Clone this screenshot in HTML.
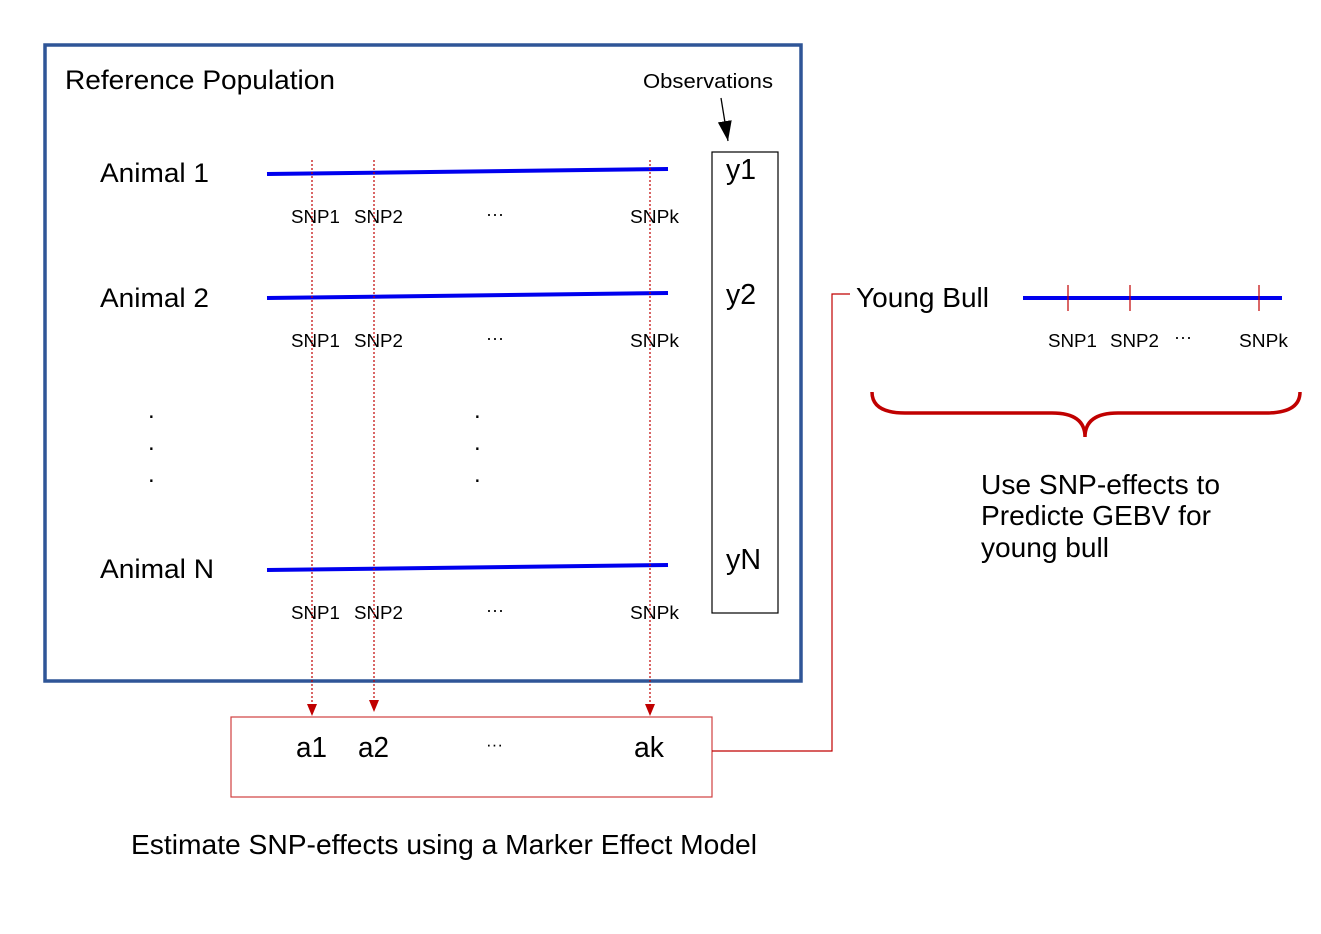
<!DOCTYPE html>
<html><head><meta charset="utf-8"><style>
html,body{margin:0;padding:0;background:#fff}
svg{display:block}
text{font-family:"Liberation Sans",sans-serif;fill:#000}
</style></head><body>
<svg width="1321" height="934" viewBox="0 0 1321 934">
<defs>
<marker id="ar" markerWidth="12" markerHeight="10" refX="12" refY="5" orient="auto" markerUnits="userSpaceOnUse"><path d="M0,0 L12,5 L0,10 z" fill="#c00000"/></marker>
<marker id="ab" markerWidth="20" markerHeight="14" refX="20" refY="7" orient="auto" markerUnits="userSpaceOnUse"><path d="M0,0 L20,7 L0,14 z" fill="#000"/></marker>
</defs>
<rect x="45" y="45" width="756" height="636" fill="none" stroke="#2f5597" stroke-width="3.5"/>
<text x="65" y="89" font-size="27" textLength="270" lengthAdjust="spacingAndGlyphs">Reference Population</text>
<text x="643" y="88" font-size="20" textLength="130" lengthAdjust="spacingAndGlyphs">Observations</text>
<line x1="721" y1="98" x2="728" y2="141" stroke="#000" stroke-width="1.3" marker-end="url(#ab)"/>
<rect x="712" y="152" width="66" height="461" fill="none" stroke="#000" stroke-width="1.2"/>
<text x="726" y="179" font-size="29" textLength="30" lengthAdjust="spacingAndGlyphs">y1</text>
<text x="726" y="304" font-size="29" textLength="30" lengthAdjust="spacingAndGlyphs">y2</text>
<text x="726" y="569" font-size="29" textLength="35" lengthAdjust="spacingAndGlyphs">yN</text>

<g>
<text x="100" y="182" font-size="27" textLength="109" lengthAdjust="spacingAndGlyphs">Animal 1</text>
<line x1="267" y1="174" x2="668" y2="169" stroke="#0000ee" stroke-width="4"/>
</g>
<g>
<text x="100" y="307" font-size="27" textLength="109" lengthAdjust="spacingAndGlyphs">Animal 2</text>
<line x1="267" y1="298" x2="668" y2="293" stroke="#0000ee" stroke-width="4"/>
</g>
<g>
<text x="100" y="578" font-size="27" textLength="114" lengthAdjust="spacingAndGlyphs">Animal N</text>
<line x1="267" y1="570" x2="668" y2="565" stroke="#0000ee" stroke-width="4"/>
</g>
<g font-size="18">
<text x="291" y="223" textLength="49" lengthAdjust="spacingAndGlyphs">SNP1</text><text x="354" y="223" textLength="49" lengthAdjust="spacingAndGlyphs">SNP2</text><text x="486" y="220">···</text><text x="630" y="223" textLength="49" lengthAdjust="spacingAndGlyphs">SNPk</text>
<text x="291" y="347" textLength="49" lengthAdjust="spacingAndGlyphs">SNP1</text><text x="354" y="347" textLength="49" lengthAdjust="spacingAndGlyphs">SNP2</text><text x="486" y="344">···</text><text x="630" y="347" textLength="49" lengthAdjust="spacingAndGlyphs">SNPk</text>
<text x="291" y="619" textLength="49" lengthAdjust="spacingAndGlyphs">SNP1</text><text x="354" y="619" textLength="49" lengthAdjust="spacingAndGlyphs">SNP2</text><text x="486" y="616">···</text><text x="630" y="619" textLength="49" lengthAdjust="spacingAndGlyphs">SNPk</text>
</g>
<g font-size="24">
<text x="148" y="418">.</text><text x="148" y="450">.</text><text x="148" y="482">.</text>
<text x="474" y="418">.</text><text x="474" y="450">.</text><text x="474" y="482">.</text>
</g>
<g stroke="#c00000" stroke-width="1.2" stroke-dasharray="2,2">
<line x1="312" y1="160" x2="312" y2="716" marker-end="url(#ar)"/>
<line x1="374" y1="160" x2="374" y2="712" marker-end="url(#ar)"/>
<line x1="650" y1="160" x2="650" y2="716" marker-end="url(#ar)"/>
</g>
<rect x="231" y="717" width="481" height="80" fill="none" stroke="#d04040" stroke-width="1.2"/>
<g font-size="29">
<text x="296" y="757" textLength="31" lengthAdjust="spacingAndGlyphs">a1</text><text x="358" y="757" textLength="31" lengthAdjust="spacingAndGlyphs">a2</text><text x="486" y="750" font-size="17">···</text><text x="634" y="757" textLength="30" lengthAdjust="spacingAndGlyphs">ak</text>
</g>
<text x="131" y="854" font-size="28" textLength="626" lengthAdjust="spacingAndGlyphs">Estimate SNP-effects using a Marker Effect Model</text>
<polyline points="712,751 832,751 832,294 850,294" fill="none" stroke="#c00000" stroke-width="1.2"/>
<g>
<text x="856" y="307" font-size="28" textLength="133" lengthAdjust="spacingAndGlyphs">Young Bull</text>
<line x1="1023" y1="298" x2="1282" y2="298" stroke="#0000ee" stroke-width="4"/>
<g stroke="#c00000" stroke-width="1.2"><line x1="1068" y1="285" x2="1068" y2="311"/><line x1="1130" y1="285" x2="1130" y2="311"/><line x1="1259" y1="285" x2="1259" y2="311"/></g>
<g font-size="18"><text x="1048" y="347" textLength="49" lengthAdjust="spacingAndGlyphs">SNP1</text><text x="1110" y="347" textLength="49" lengthAdjust="spacingAndGlyphs">SNP2</text><text x="1174" y="343">···</text><text x="1239" y="347" textLength="49" lengthAdjust="spacingAndGlyphs">SNPk</text></g>
</g>
<path d="M872,392 Q872,413 905,413 L1052,413 Q1085,413 1085,437 Q1085,413 1118,413 L1266,413 Q1300,413 1300,392" fill="none" stroke="#c00000" stroke-width="3.5"/>
<g font-size="28">
<text x="981" y="494" textLength="239" lengthAdjust="spacingAndGlyphs">Use SNP-effects to</text><text x="981" y="525" textLength="230" lengthAdjust="spacingAndGlyphs">Predicte GEBV for</text><text x="981" y="557" textLength="128" lengthAdjust="spacingAndGlyphs">young bull</text>
</g>
</svg>
</body></html>
